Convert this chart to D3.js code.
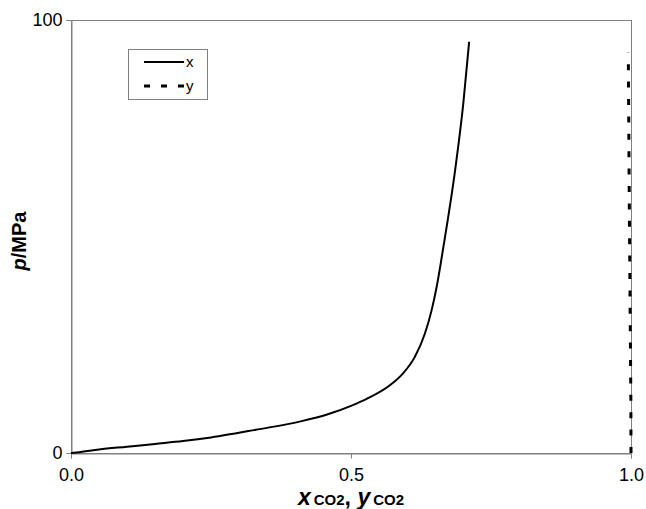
<!DOCTYPE html>
<meta charset="utf-8">
<style>
  body { margin: 0; background: #fff; }
  text { font-family: "Liberation Sans", Arial, sans-serif; }
  .frame { fill: none; stroke: #808080; stroke-width: 1px; }
</style>
<body>
<script src="https://d3js.org/d3.v7.min.js"></script>
<script>
  // liquid phase (x) and vapour phase (y) CO2 mole fraction vs pressure
  var xCO2 = [0, 0.01, 0.05, 0.1, 0.15, 0.2, 0.25, 0.3, 0.35, 0.41, 0.46, 0.5, 0.528, 0.57, 0.593, 0.614, 0.632, 0.644, 0.653, 0.665, 0.686, 0.7006, 0.711];
  var pX   = [0, 0.1, 0.8, 1.45, 2.1, 2.75, 3.6, 4.7, 5.8, 7.3, 9.0, 10.9, 12.5, 15.7, 18.4, 22.2, 27.6, 33.0, 38.4, 47.6, 65.4, 80.8, 95.0];
  var yCO2 = [1.0, 0.9998, 0.997, 0.9952];
  var pY   = [0, 11.5, 57, 92.5];
  var xTicks = [0, 0.5, 1.0];
  var yTicks = [0, 100];

  var margin = { top: 20, right: 15, bottom: 56, left: 71 },
    width = 646 - margin.left - margin.right,
    height = 509 - margin.top - margin.bottom;

  var x = d3.scaleLinear().domain([0, 1]).range([0, width]);
  var y = d3.scaleLinear().domain([0, 100]).range([height, 0]);

  var svg = d3.select("body").append("svg")
    .attr("width", 646)
    .attr("height", 509)
    .append("g")
    .attr("transform", "translate(" + margin.left + "," + margin.top + ")");

  // plot frame
  svg.append("rect").attr("class", "frame")
    .attr("x", 0.5).attr("y", 0.5)
    .attr("width", width).attr("height", height);

  // axes
  var xAxis = svg.append("g")
    .attr("transform", "translate(0," + (height + 0.5) + ")")
    .call(d3.axisBottom(x).tickValues(xTicks).tickFormat(d3.format(".1f")).tickSize(5).tickPadding(10));
  var yAxis = svg.append("g")
    .attr("transform", "translate(0.5,0)")
    .call(d3.axisLeft(y).tickValues(yTicks).tickSize(5).tickPadding(4));

  [xAxis, yAxis].forEach(function (a) {
    a.select(".domain").attr("stroke", "#808080");
    a.selectAll(".tick line").attr("stroke", "#808080");
    a.selectAll(".tick text").attr("fill", "#000")
      .style("font-size", "18px").style("font-family", "Liberation Sans, Arial, sans-serif");
  });

  // liquid line
  var lineX = d3.line()
    .curve(d3.curveMonotoneX)
    .x(function (d, i) { return x(xCO2[i]); })
    .y(function (d, i) { return y(pX[i]); });
  svg.append("path")
    .datum(pX)
    .attr("fill", "none")
    .attr("stroke", "#000")
    .attr("stroke-width", 2)
    .attr("d", lineX);

  // vapour line
  var lineY = d3.line()
    .x(function (d, i) { return x(yCO2[i]); })
    .y(function (d, i) { return y(pY[i]); });
  svg.append("path")
    .datum(pY)
    .attr("fill", "none")
    .attr("stroke", "#000")
    .attr("stroke-width", 3)
    .attr("stroke-dasharray", "6,11.4")
    .attr("d", lineY);

  // legend
  var lg = svg.append("g").attr("transform", "translate(" + (128 - margin.left) + "," + (49 - margin.top) + ")");
  lg.append("rect").attr("x", 0.5).attr("y", 0.5).attr("width", 79).attr("height", 50)
    .attr("fill", "#fff").attr("stroke", "#808080");
  lg.append("line").attr("x1", 16).attr("x2", 56).attr("y1", 13).attr("y2", 13)
    .attr("stroke", "#000").attr("stroke-width", 2);
  lg.append("line").attr("x1", 16).attr("x2", 56).attr("y1", 37).attr("y2", 37)
    .attr("stroke", "#000").attr("stroke-width", 3).attr("stroke-dasharray", "6,11");
  lg.append("text").attr("x", 58).attr("y", 18).style("font-size", "15px").text("x");
  lg.append("text").attr("x", 58).attr("y", 42).style("font-size", "15px").text("y");

  // y axis title
  var yt = svg.append("text")
    .attr("transform", "translate(" + (26 - margin.left) + "," + (241 - margin.top) + ") rotate(-90)")
    .attr("text-anchor", "middle")
    .style("font-size", "20px").style("font-weight", "bold");
  yt.append("tspan").style("font-style", "italic").text("p");
  yt.append("tspan").text("/MPa");

  // x axis title
  var xt = svg.append("text")
    .attr("x", width / 2).attr("y", 505 - margin.top)
    .attr("text-anchor", "middle")
    .style("font-weight", "bold");
  xt.append("tspan").style("font-style", "italic").style("font-size", "23px").text("x");
  xt.append("tspan").style("font-size", "15px").attr("dx", 3).text("CO2");
  xt.append("tspan").style("font-size", "23px").text(", ");
  xt.append("tspan").style("font-style", "italic").style("font-size", "23px").text("y");
  xt.append("tspan").style("font-size", "15px").attr("dx", 3).text("CO2");
</script>
</body>
